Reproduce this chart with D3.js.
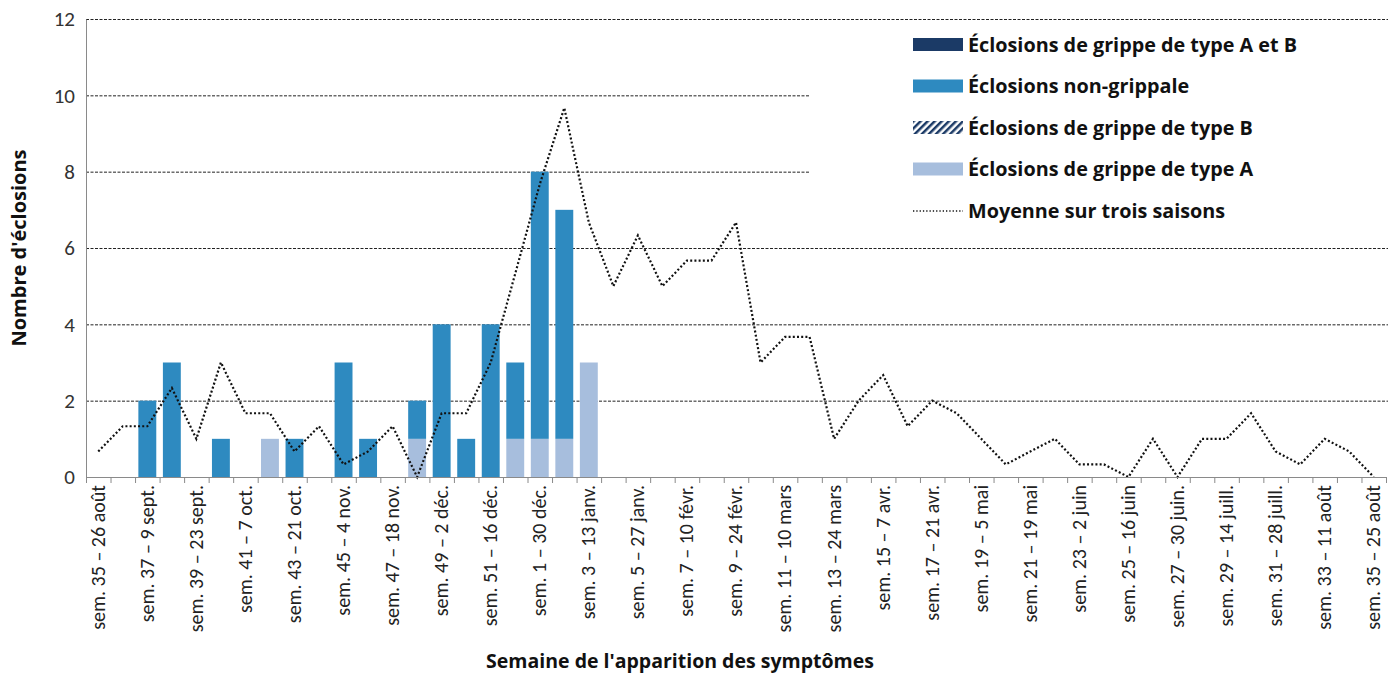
<!DOCTYPE html>
<html>
<head>
<meta charset="utf-8">
<script src="https://cdn.jsdelivr.net/npm/d3@7"></script>
<style>
  body { margin: 0; background: #fff; }
  svg text { font-family: Carlito, Lato, "Open Sans", sans-serif; }
  svg text.bold { font-family: "Open Sans", Lato, sans-serif; font-weight: bold; }
  .grid line { stroke: #222; stroke-width: 1; stroke-dasharray: 3,1.5; }
</style>
</head>
<body>
<svg id="chart" width="1388" height="673"></svg>
<script>
'use strict'

// weeks of onset (sem. 35 to sem. 35 of next year)
const weeks = [35,36,37,38,39,40,41,42,43,44,45,46,47,48,49,50,51,52,
  1,2,3,4,5,6,7,8,9,10,11,12,13,14,15,16,17,18,19,20,21,22,23,24,25,26,27,28,29,30,31,32,33,34,35]

// one label every two weeks
const tickLabels = ["sem. 35 – 26 août", "sem. 37 – 9 sept.", "sem. 39 – 23 sept.", "sem. 41 – 7 oct.",
  "sem. 43 – 21 oct.", "sem. 45 – 4 nov.", "sem. 47 – 18 nov.", "sem. 49 – 2 déc.", "sem. 51 – 16 déc.",
  "sem. 1 – 30 déc.", "sem. 3 – 13 janv.", "sem. 5 – 27 janv.", "sem. 7 – 10 févr.", "sem. 9 – 24 févr.",
  "sem. 11 – 10 mars", "sem. 13 – 24 mars", "sem. 15 – 7 avr.", "sem. 17 – 21 avr.", "sem. 19 – 5 mai",
  "sem. 21 – 19 mai", "sem. 23 – 2 juin", "sem. 25 – 16 juin", "sem. 27 – 30 juin.", "sem. 29 – 14 juill.",
  "sem. 31 – 28 juill.", "sem. 33 – 11 août", "sem. 35 – 25 août"]

// series values, one per week
const typeA =   [0,0,0,0,0,0,0,1,0,0,0,0,0,1,0,0,0,1,1,1,3,0,0,0,0,0,0,0,0,0,0,0,0,0,0,0,0,0,0,0,0,0,0,0,0,0,0,0,0,0,0,0,0]
const typeB =   [0,0,0,0,0,0,0,0,0,0,0,0,0,0,0,0,0,0,0,0,0,0,0,0,0,0,0,0,0,0,0,0,0,0,0,0,0,0,0,0,0,0,0,0,0,0,0,0,0,0,0,0,0]
const nonFlu =  [0,0,2,3,0,1,0,0,1,0,3,1,0,1,4,1,4,2,7,6,0,0,0,0,0,0,0,0,0,0,0,0,0,0,0,0,0,0,0,0,0,0,0,0,0,0,0,0,0,0,0,0,0]
const typeAB =  [0,0,0,0,0,0,0,0,0,0,0,0,0,0,0,0,0,0,0,0,0,0,0,0,0,0,0,0,0,0,0,0,0,0,0,0,0,0,0,0,0,0,0,0,0,0,0,0,0,0,0,0,0]
const avg3 = [0.67,1.33,1.33,2.33,1,3,1.67,1.67,0.67,1.33,0.33,0.67,1.33,0,1.67,1.67,3,5.33,7.67,9.67,
  6.67,5,6.33,5,5.67,5.67,6.67,3,3.67,3.67,1,2,2.67,1.33,2,1.67,1,0.33,0.67,1,0.33,0.33,0,1,0,1,1,1.67,0.67,0.33,1,0.67,0]

const yTicks = [0, 2, 4, 6, 8, 10, 12]

const seriesKeys = ["A", "B", "non", "AB"]
const seriesNames = {
  AB: "Éclosions de grippe de type A et B",
  non: "Éclosions non-grippale",
  B: "Éclosions de grippe de type B",
  A: "Éclosions de grippe de type A"
}
const colors = { A: "#a7bedd", B: "url(#hatchB)", non: "#2e8ac0", AB: "#1b3a66" }

const margins = {top: 19, right: 2, bottom: 196, left: 86}
const width = 1388, height = 673
const chartWidth = width - margins.left - margins.right
const chartHeight = height - margins.top - margins.bottom

const idx = d3.range(weeks.length)
const x = d3.scaleBand().domain(idx).range([0, chartWidth]).paddingInner(0.27).paddingOuter(0.135)
const xEdge = d3.scaleLinear().domain([0, weeks.length]).range([0, chartWidth])
const y = d3.scaleLinear().domain([0, 12]).range([chartHeight, 0])

const svg = d3.select('#chart')
const defs = svg.append('defs')
const pat = defs.append('pattern').attr('id', 'hatchB').attr('patternUnits', 'userSpaceOnUse')
  .attr('width', 5).attr('height', 5).attr('patternTransform', 'rotate(45)')
pat.append('rect').attr('width', 5).attr('height', 5).attr('fill', '#fff')
pat.append('rect').attr('width', 2.5).attr('height', 5).attr('fill', '#1b3a66')

const g = svg.append('g').attr('transform', 'translate(' + margins.left + ',' + margins.top + ')')

// gridlines
g.append('g').attr('class', 'grid')
  .call(d3.axisLeft(y).tickValues(yTicks.filter(v => v > 0)).tickSize(-chartWidth - 4).tickFormat(''))
  .call(s => s.select('.domain').remove())

// stacked bars
const table = idx.map(i => ({i: i, A: typeA[i], B: typeB[i], non: nonFlu[i], AB: typeAB[i]}))
const stacked = d3.stack().keys(seriesKeys)(table)
g.selectAll('.layer').data(stacked).enter().append('g')
  .attr('class', 'layer')
  .attr('fill', d => colors[d.key])
  .selectAll('rect').data(d => d.filter(p => p[1] > p[0])).enter().append('rect')
  .attr('x', d => x(d.data.i))
  .attr('width', x.bandwidth())
  .attr('y', d => y(d[1]))
  .attr('height', d => y(d[0]) - y(d[1]))

// three season average
const line = d3.line().x((d, i) => x(i) + x.bandwidth() / 2).y(d => y(d))
g.append('path').datum(avg3)
  .attr('fill', 'none').attr('stroke', '#111').attr('stroke-width', 2.2)
  .attr('stroke-dasharray', '2,2.2')
  .attr('d', line)

// legend box hides grid lines behind it
const legend = g.append('g').attr('transform', 'translate(827,18)')
legend.append('rect').attr('x', -104).attr('y', -8).attr('width', 600).attr('height', 208).attr('fill', '#fff')
const legendKeys = ["AB", "non", "B", "A"]
legendKeys.forEach((k, j) => {
  const row = legend.append('g').attr('transform', 'translate(0,' + (j * 41.5) + ')')
  row.append('rect').attr('x', 0).attr('y', 1).attr('width', 50).attr('height', 13).attr('fill', colors[k])
  row.append('text').attr('class', 'bold').attr('x', 55).attr('y', 8).attr('dy', '0.35em')
    .attr('font-size', 19.8).attr('fill', '#111').text(seriesNames[k])
})
const lrow = legend.append('g').attr('transform', 'translate(0,' + (4 * 41.5) + ')')
lrow.append('line').attr('x1', 0).attr('x2', 50).attr('y1', 8).attr('y2', 8)
  .attr('stroke', '#111').attr('stroke-width', 1.3).attr('stroke-dasharray', '1.3,2')
lrow.append('text').attr('class', 'bold').attr('x', 55).attr('y', 8).attr('dy', '0.35em')
  .attr('font-size', 19.8).attr('fill', '#111').text('Moyenne sur trois saisons')

// y axis
const yAxis = g.append('g').call(d3.axisLeft(y).tickValues(yTicks).tickSize(0).tickPadding(11))
yAxis.select('.domain').attr('stroke', '#8a8a8a')
yAxis.selectAll('text').attr('font-size', 21).attr('fill', '#333')

// x axis: ticks on week boundaries
const xAxis = g.append('g').attr('transform', 'translate(0,' + chartHeight + ')')
  .call(d3.axisBottom(xEdge).tickValues(d3.range(0, weeks.length + 1)).tickSize(6).tickFormat(''))
xAxis.select('.domain').attr('stroke', '#8a8a8a')
xAxis.selectAll('.tick line').attr('stroke', '#8a8a8a')

// x labels, every second week
const labelAxis = g.append('g').attr('transform', 'translate(0,' + chartHeight + ')')
  .call(d3.axisBottom(x).tickValues(idx.filter(i => i % 2 === 0)).tickSize(0)
    .tickFormat(i => tickLabels[i / 2]))
labelAxis.select('.domain').remove()
labelAxis.selectAll('text')
  .attr('font-size', 20).attr('fill', '#222')
  .attr('transform', 'rotate(-90)')
  .attr('x', -8).attr('y', 0).attr('dy', '0.32em')
  .style('text-anchor', 'end')

// axis titles
svg.append('text').attr('class', 'bold')
  .attr('transform', 'translate(26,' + (margins.top + chartHeight / 2) + ') rotate(-90)')
  .attr('text-anchor', 'middle').attr('font-size', 20).attr('fill', '#111')
  .text("Nombre d'éclosions")
svg.append('text').attr('class', 'bold').attr('x', 680).attr('y', 668)
  .attr('text-anchor', 'middle').attr('font-size', 19.5).attr('fill', '#111')
  .text("Semaine de l'apparition des symptômes")
</script>
</body>
</html>
